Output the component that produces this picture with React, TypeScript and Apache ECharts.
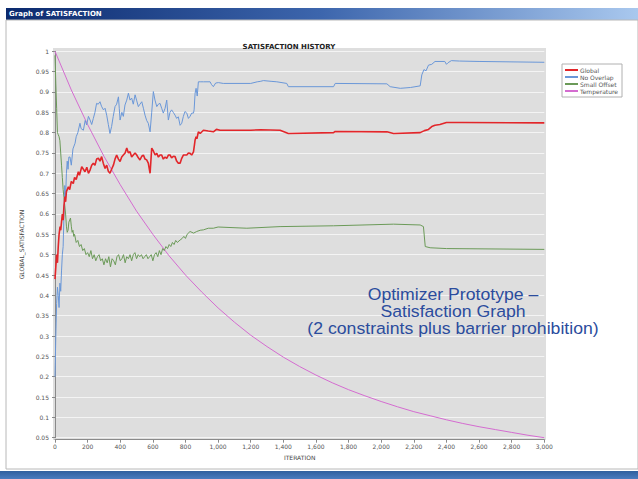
import React, { useEffect, useRef } from "react";
import * as echarts from "echarts";

const xTickStep = 200;
const yTickStep = 0.05;

const seriesNames = ["Global", "No Overlap", "Small Offset", "Temperature"];

const globalData: number[][] = [
  [0, 0.44], [5, 0.47], [10, 0.5], [15, 0.48], [20, 0.52], [25, 0.55], [31, 0.569], [35, 0.56], [40, 0.58], [45, 0.6],
  [50, 0.585], [55, 0.62], [61, 0.643], [65, 0.63], [70, 0.655], [75, 0.66], [82, 0.667], [90, 0.66], [100, 0.68],
  [112, 0.675], [120, 0.69], [130, 0.685], [143, 0.704], [150, 0.695], [164, 0.716], [174, 0.71], [184, 0.704],
  [195, 0.715], [205, 0.7], [215, 0.708], [225, 0.72], [235, 0.725], [245, 0.72], [255, 0.735], [266, 0.737],
  [276, 0.73], [286, 0.741], [296, 0.725], [307, 0.712], [317, 0.72], [327, 0.705], [337, 0.7], [347, 0.71],
  [358, 0.72], [368, 0.735], [378, 0.745], [389, 0.735], [399, 0.729], [409, 0.74], [419, 0.745], [430, 0.75],
  [440, 0.762], [450, 0.75], [460, 0.753], [470, 0.74], [480, 0.745], [491, 0.75], [501, 0.745], [511, 0.738],
  [521, 0.733], [532, 0.742], [542, 0.745], [552, 0.735], [562, 0.733], [572, 0.725], [583, 0.7], [593, 0.762],
  [603, 0.755], [614, 0.745], [624, 0.749], [634, 0.74], [644, 0.745], [654, 0.745], [664, 0.735], [675, 0.74],
  [685, 0.737], [695, 0.745], [705, 0.745], [715, 0.738], [726, 0.742], [736, 0.741], [746, 0.73], [756, 0.725],
  [767, 0.725], [777, 0.737], [787, 0.745], [797, 0.745], [808, 0.745], [818, 0.75], [828, 0.749], [838, 0.745],
  [849, 0.753], [855, 0.77], [859, 0.782], [865, 0.79], [870, 0.785], [879, 0.802], [890, 0.798], [910, 0.806],
  [940, 0.804], [971, 0.802], [990, 0.808], [1012, 0.806], [1200, 0.806], [1260, 0.807], [1380, 0.806],
  [1431, 0.798], [1708, 0.8], [1718, 0.803], [2035, 0.802], [2076, 0.798], [2239, 0.8], [2265, 0.805],
  [2290, 0.808], [2310, 0.815], [2330, 0.818], [2360, 0.82], [2400, 0.825], [2500, 0.825], [3000, 0.824],
];

const noOverlapData: number[][] = [
  [0, 0.2], [5, 0.3], [10, 0.38], [15, 0.42], [20, 0.4], [25, 0.37], [30, 0.43], [35, 0.41], [40, 0.46], [45, 0.5],
  [50, 0.52], [55, 0.6], [60, 0.67], [65, 0.64], [70, 0.7], [75, 0.73], [80, 0.71], [85, 0.74], [92, 0.74],
  [100, 0.72], [110, 0.76], [123, 0.774], [130, 0.79], [140, 0.8], [153, 0.823], [160, 0.81], [174, 0.806],
  [185, 0.83], [194, 0.819], [205, 0.84], [215, 0.831], [225, 0.82], [235, 0.835], [245, 0.85], [255, 0.872],
  [265, 0.87], [276, 0.876], [285, 0.865], [297, 0.856], [307, 0.86], [317, 0.843], [327, 0.82], [337, 0.798],
  [347, 0.815], [357, 0.84], [368, 0.864], [378, 0.87], [389, 0.888], [394, 0.86], [399, 0.831], [410, 0.85],
  [419, 0.84], [429, 0.868], [440, 0.88], [450, 0.897], [460, 0.88], [470, 0.885], [480, 0.87], [491, 0.893],
  [500, 0.88], [511, 0.864], [521, 0.87], [532, 0.876], [542, 0.86], [552, 0.843], [562, 0.83], [572, 0.823],
  [583, 0.802], [593, 0.85], [603, 0.901], [613, 0.88], [624, 0.864], [634, 0.87], [644, 0.872], [654, 0.86],
  [664, 0.848], [675, 0.86], [685, 0.88], [695, 0.831], [705, 0.85], [715, 0.856], [725, 0.85], [736, 0.843],
  [746, 0.835], [756, 0.839], [767, 0.818], [777, 0.823], [787, 0.84], [797, 0.852], [808, 0.848], [818, 0.835],
  [828, 0.84], [838, 0.848], [849, 0.848], [853, 0.856], [859, 0.897], [865, 0.909], [872, 0.89], [879, 0.925],
  [890, 0.925], [910, 0.925], [951, 0.925], [960, 0.918], [971, 0.913], [985, 0.922], [1002, 0.923],
  [1032, 0.921], [1200, 0.921], [1240, 0.925], [1258, 0.926], [1278, 0.928], [1330, 0.926], [1360, 0.925],
  [1421, 0.921], [1431, 0.913], [1708, 0.913], [1718, 0.921], [2035, 0.92], [2055, 0.913], [2117, 0.909],
  [2180, 0.911], [2239, 0.915], [2249, 0.942], [2262, 0.955], [2275, 0.952], [2290, 0.966], [2310, 0.968],
  [2330, 0.975], [2390, 0.975], [2400, 0.968], [2410, 0.972], [2430, 0.977], [2480, 0.976], [2600, 0.975],
  [3000, 0.973],
];

const smallOffsetData: number[][] = [
  [0, 0.99], [5, 0.92], [10, 0.86], [15, 0.8], [20, 0.795], [25, 0.79], [30, 0.78], [35, 0.75], [40, 0.72],
  [45, 0.69], [50, 0.66], [55, 0.64], [60, 0.62], [65, 0.6], [70, 0.57], [75, 0.555], [80, 0.56], [85, 0.58],
  [90, 0.585], [95, 0.59], [100, 0.57], [105, 0.555], [110, 0.56], [115, 0.545], [120, 0.55], [130, 0.53],
  [140, 0.535], [150, 0.52], [160, 0.525], [170, 0.51], [180, 0.515], [190, 0.5], [200, 0.505], [210, 0.495],
  [220, 0.51], [230, 0.49], [240, 0.5], [250, 0.485], [260, 0.495], [270, 0.5], [280, 0.485], [290, 0.49],
  [300, 0.475], [310, 0.49], [320, 0.48], [330, 0.495], [340, 0.47], [350, 0.49], [360, 0.485], [370, 0.475],
  [380, 0.495], [390, 0.5], [400, 0.485], [410, 0.49], [420, 0.5], [430, 0.48], [440, 0.495], [450, 0.49],
  [460, 0.5], [470, 0.485], [480, 0.5], [490, 0.505], [500, 0.49], [510, 0.5], [520, 0.495], [530, 0.5],
  [540, 0.49], [550, 0.495], [560, 0.5], [570, 0.49], [580, 0.495], [590, 0.5], [600, 0.485], [610, 0.5],
  [620, 0.505], [630, 0.495], [640, 0.51], [650, 0.5], [660, 0.515], [670, 0.51], [680, 0.52], [690, 0.515],
  [700, 0.525], [710, 0.52], [720, 0.53], [730, 0.525], [740, 0.535], [750, 0.53], [767, 0.536], [780, 0.54],
  [790, 0.545], [800, 0.54], [810, 0.55], [828, 0.557], [850, 0.553], [869, 0.557], [890, 0.56], [910, 0.561],
  [940, 0.565], [971, 0.565], [1000, 0.568], [1176, 0.565], [1380, 0.569], [1708, 0.571], [2076, 0.575],
  [2239, 0.573], [2259, 0.569], [2270, 0.52], [2300, 0.517], [2400, 0.515], [3000, 0.513],
];

const temperatureData: number[][] = [
  [0, 1.0], [100, 0.905], [200, 0.82], [300, 0.742], [400, 0.672], [500, 0.607], [600, 0.55], [700, 0.497],
  [800, 0.45], [900, 0.408], [1000, 0.369], [1100, 0.334], [1200, 0.302], [1300, 0.274], [1400, 0.248],
  [1500, 0.225], [1600, 0.204], [1700, 0.185], [1800, 0.168], [1900, 0.153], [2000, 0.139], [2100, 0.126],
  [2200, 0.114], [2300, 0.104], [2400, 0.094], [2500, 0.085], [2600, 0.077], [2700, 0.07], [2800, 0.063],
  [2900, 0.056], [3000, 0.05],
];

const annotationLines = [
  "Optimizer Prototype –",
  "Satisfaction Graph",
  "(2 constraints plus barrier prohibition)",
];

const colors = ["#e2262a", "#6a97d8", "#6b9a58", "#d46cd0"];
const widths = [1.6, 1, 1, 1];

export default function App() {
  const ref = useRef<HTMLDivElement>(null);
  useEffect(() => {
    if (!ref.current) return;
    const chart = echarts.init(ref.current, null, { renderer: "svg" });
    const datasets = [globalData, noOverlapData, smallOffsetData, temperatureData];
    const fmtY = (v: number) => v.toFixed(2).replace(/0+$/, "").replace(/\.$/, "");
    const option: any = {
      animation: false,
      backgroundColor: "#ffffff",
      title: {
        text: "SATISFACTION HISTORY",
        left: 284,
        top: 38,
        textAlign: "center",
        textStyle: { fontSize: 7, fontWeight: "bold", color: "#222", fontFamily: "DejaVu Sans" },
      },
      legend: {
        orient: "vertical",
        left: 562,
        top: 64,
        data: seriesNames,
        icon: "rect",
        itemWidth: 13,
        itemHeight: 2,
        itemGap: 1,
        padding: [3, 4, 3, 3],
        backgroundColor: "#ffffff",
        borderColor: "#b0b0b0",
        borderWidth: 1,
        textStyle: { fontSize: 6, color: "#555", padding: [0, 0, 0, -3], fontFamily: "DejaVu Sans" },
      },
      grid: { left: 55, top: 51.3, width: 489.3, height: 386.4 },
      xAxis: {
        type: "value",
        min: 0,
        max: 3000,
        interval: xTickStep,
        offset: 2,
        name: "ITERATION",
        nameLocation: "middle",
        nameGap: 13,
        nameTextStyle: { fontSize: 6, color: "#444", fontFamily: "DejaVu Sans" },
        axisLine: { lineStyle: { color: "#8a8a8a" } },
        axisTick: { length: 3, lineStyle: { color: "#8a8a8a" } },
        axisLabel: {
          fontSize: 6,
          color: "#555",
          margin: 4,
          fontFamily: "DejaVu Sans",
          formatter: (v: number) => v.toLocaleString("en-US"),
        },
        splitLine: { show: false },
      },
      yAxis: {
        type: "value",
        min: 0.05,
        max: 1,
        interval: yTickStep,
        offset: 2,
        name: "GLOBAL_SATISFACTION",
        nameLocation: "middle",
        nameGap: 17,
        nameTextStyle: { fontSize: 6, color: "#444", fontFamily: "DejaVu Sans" },
        axisLine: { show: true, lineStyle: { color: "#8a8a8a" } },
        axisTick: { show: true, length: 3, lineStyle: { color: "#8a8a8a" } },
        axisLabel: { fontSize: 6, color: "#555", margin: 4, fontFamily: "DejaVu Sans", formatter: fmtY },
        splitLine: { lineStyle: { color: "#f4f4f4", width: 1 } },
      },
      graphic: [
        { type: "rect", z: -10, shape: { x: 6, y: 8, width: 632, height: 12 }, style: {
          fill: new echarts.graphic.LinearGradient(0, 0, 1, 0, [
            { offset: 0, color: "#0b2a6e" },
            { offset: 0.5, color: "#3d66ad" },
            { offset: 1, color: "#a9c8ee" },
          ]) } },
        { type: "text", z: 10, left: 9, top: 10, style: { text: "Graph of SATISFACTION", fill: "#ffffff", font: "bold 7px 'DejaVu Sans'" } },
        { type: "rect", z: -10, shape: { x: 6, y: 20, width: 632, height: 449 }, style: { fill: "#ffffff", stroke: "#b8b8b8", lineWidth: 1 } },
        { type: "rect", z: -10, shape: { x: 0, y: 471, width: 638, height: 8 }, style: {
          fill: new echarts.graphic.LinearGradient(0, 0, 0, 1, [
            { offset: 0, color: "#2f5f9e" },
            { offset: 1, color: "#4a7cbf" },
          ]) } },
        { type: "rect", z: -5, shape: { x: 53, y: 48, width: 493, height: 392 }, style: { fill: "#dedede" } },
        {
          type: "text",
          z: 20,
          x: 453,
          y: 312,
          scaleX: 1.07,
          style: {
            text: annotationLines.join("\n"),
            fill: "#2b4c9d",
            font: "16.5px 'Liberation Sans'",
            lineHeight: 17,
            textAlign: "center",
            textVerticalAlign: "middle",
          },
        },
      ],
      series: seriesNames.map((n, i) => ({
        name: n,
        type: "line",
        data: datasets[i],
        showSymbol: false,
        symbol: "none",
        color: colors[i],
        lineStyle: { width: widths[i], color: colors[i] },
        z: 4 - i,
      })),
    };
    chart.setOption(option);
    return () => chart.dispose();
  }, []);
  return <div ref={ref} style={{ position: "fixed", left: 0, top: 0, width: 638, height: 479 }} />;
}
